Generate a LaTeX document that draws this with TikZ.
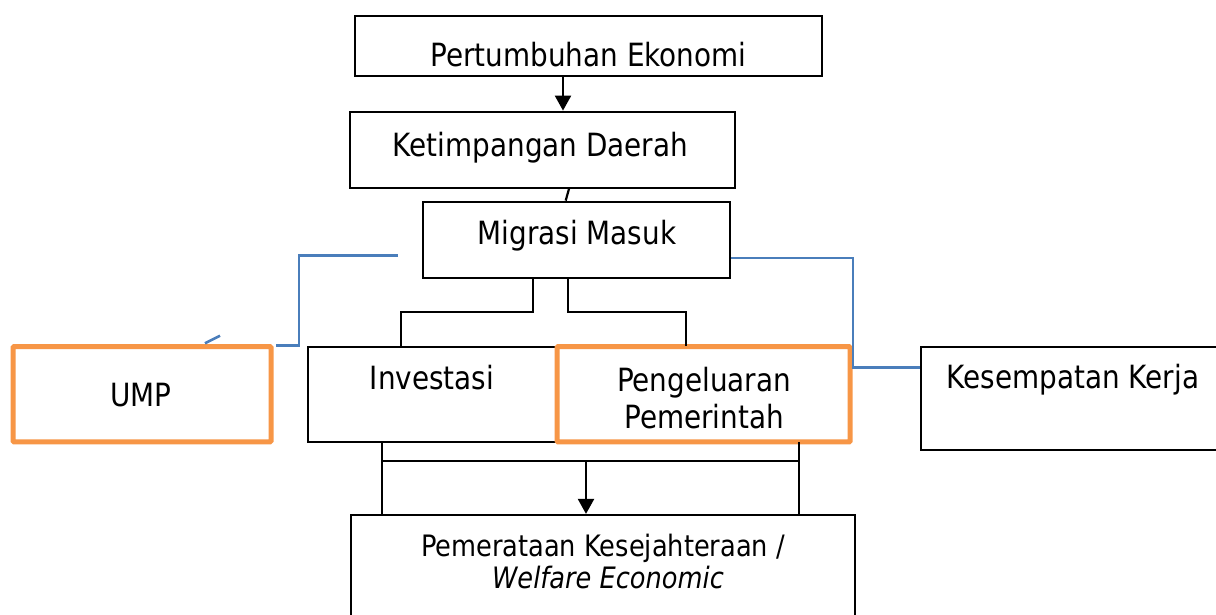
\documentclass[tikz,border=0pt]{standalone}
\usepackage{fontspec}
\setmainfont{DejaVu Sans}[FakeStretch=0.87]
\usetikzlibrary{arrows.meta}
\definecolor{umpor}{HTML}{F79646}
\definecolor{lnblue}{HTML}{4A7EBB}
\tikzset{
  box/.style={draw=black, line width=2.2pt, fill=white},
  obox/.style={draw=umpor, line width=5pt, fill=white, rounded corners=1pt},
  txt/.style={anchor=base, inner sep=0pt, font=\fontsize{32}{36}\selectfont},
  stxt/.style={anchor=base, inner sep=0pt, font=\fontsize{29.5}{34}\selectfont},
  conn/.style={draw=black, line width=2.2pt},
  bconn/.style={draw=lnblue, line width=2.6pt},
  arr/.style={conn, -{Triangle[width=16pt,length=15pt]}}
}
\begin{document}
\begin{tikzpicture}[x=1pt,y=-1pt]
\useasboundingbox (0,0) rectangle (1216,614);
% boxes
\node[box, minimum width=467pt, minimum height=60pt, inner sep=0pt] (b1) at (588.5,46) {};
\node[box, minimum width=385pt, minimum height=76pt, inner sep=0pt] (b2) at (542.5,149.7) {};
\node[box, minimum width=307pt, minimum height=76pt, inner sep=0pt] (b3) at (576.5,239.7) {};
\node[box, minimum width=300pt, minimum height=95.3pt, inner sep=0pt] (inv) at (457.7,394.3) {};
\node[obox, minimum width=293pt, minimum height=95.3pt, inner sep=0pt] (peng) at (703.5,394.3) {};
\node[obox, minimum width=258pt, minimum height=95.3pt, inner sep=0pt] (ump) at (142,394.3) {};
\node[box, minimum width=320pt, minimum height=103.3pt, inner sep=0pt] (kes) at (1081,398.3) {};
\node[box, minimum width=504pt, minimum height=110pt, inner sep=0pt] (pem) at (603,570) {};
% texts
\node[txt] (t1) at (588.5,66) {Pertumbuhan Ekonomi};
\node[txt] (t2) at (540.5,156.7) {Ketimpangan Daerah};
\node[txt] (t3) at (577,244) {Migrasi Masuk};
\node[txt] (t4) at (141,406.7) {UMP};
\node[txt] (t5) at (432,389.3) {Investasi};
\node[txt] (t6) at (704,391.7) {Pengeluaran};
\node[txt] (t7) at (704,428.3) {Pemerintah};
\node[txt] (t8) at (1073,388) {Kesempatan Kerja};
\node[stxt] (t9) at (603,556.7) {Pemerataan Kesejahteraan /};
\node[stxt] (t10) at (608,588) {\itshape Welfare Economic};
% black connectors
\draw[arr] (b1.south -| 563,0) -- (b2.north -| 563,0);
\draw[conn] (b2.south -| 569,0) -- (b3.north -| 565.7,0);
\draw[conn] (b3.south -| 533,0) |- (401,312) -- (inv.north -| 401,0);
\draw[conn] (b3.south -| 568,0) |- (686,312) -- ([yshift=-2pt]peng.north -| 686,0);
\coordinate (jl) at (382,460.7);
\coordinate (jr) at (799,460.7);
\draw[conn] (inv.south -| jl) -- (pem.north -| jl);
\draw[conn] ([yshift=2pt]peng.south -| jr) -- (pem.north -| jr);
\draw[conn] (jl) -- (jr);
\draw[arr] (586,460.7) coordinate (ja) -- (pem.north -| ja);
% blue connectors
\coordinate (bl) at (398,255.7);
\draw[bconn] (bl) -| (299,345.7) -- ([xshift=2pt]ump.north east |- 0,345.7);
\coordinate (s1) at (205,343.3);
\coordinate (s2) at (220,335.7);
\draw[bconn] (s1) -- (s2);
\draw[bconn] (b3.east |- 0,258) -| (853,367.7) -- (kes.west |- 0,367.7);
\end{tikzpicture}
\end{document}
